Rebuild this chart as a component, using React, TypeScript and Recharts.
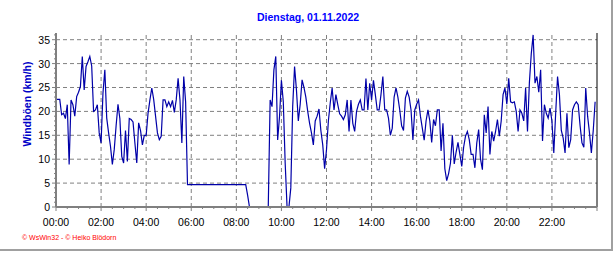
import { LineChart, Line, XAxis, YAxis, ReferenceLine } from "recharts";

const title = "Dienstag, 01.11.2022";
const yTitle = "Windböen (km/h)";
const credit = "© WsWin32 - © Heiko Blödorn";

const hourLabels = [
  "00:00", "02:00", "04:00", "06:00", "08:00", "10:00",
  "12:00", "14:00", "16:00", "18:00", "20:00", "22:00",
];
const gustLabels = [0, 5, 10, 15, 20, 25, 30, 35];

// Böen in 5-Minuten-Schritten (km/h)
const gusts00to06 = [
  22.5, 22.5, 22.5, 19.3, 19.6, 18.5, 21.4, 8.9, 22.4, 21.4, 19, 23.1,
  24, 25.2, 31.5, 24.5, 29.4, 30.4, 31.5, 29.5, 20, 20.3, 21.4, 15.5,
  13.4, 23.8, 28.7, 18.6, 15.5, 12.7, 8.9, 12, 17, 21.5, 18.5, 10.6,
  9.2, 16, 9.5, 18.5, 18.3, 17.8, 13.4, 9.2, 17.6, 16, 13, 15,
  15, 19.6, 22.4, 24.9, 22.5, 19, 15.5, 14.1, 14.8, 22.4, 22.4, 21,
  22, 21, 22.3, 19.8, 22.4, 26.9, 22.4, 13.4, 27.3, 22, 4.7, 4.7,
];
const gusts06to12 = [
  4.7, 4.7, 4.7, 4.7, 4.7, 4.7, 4.7, 4.7, 4.7, 4.7, 4.7, 4.7,
  4.7, 4.7, 4.7, 4.7, 4.7, 4.7, 4.7, 4.7, 4.7, 4.7, 4.7, 4.7,
  4.7, 4.7, 4.7, 4.7, 4.7, 4.7, 2.5, 0, 0, 0, 0, 0,
  0, 0, 0, 0, 0, 0, 22.4, 21, 28.7, 31.5, 14, 19,
  26.5, 22, 9.2, 0, 0, 4, 21, 29.4, 24.5, 18, 21.5, 26.6,
  25, 23, 20, 17.5, 15.5, 13, 18, 19, 20.5, 16, 13, 8,
];
const gusts12to18 = [
  12, 18, 21.8, 24.9, 20.3, 23.5, 21.4, 19.5, 19, 18.3, 19.3, 22.4,
  15.8, 22.4, 17.5, 15.8, 20, 21.5, 22.4, 20.3, 20.3, 26.9, 20.3, 25.9,
  22.4, 26.5, 23.5, 20.3, 20.3, 23.5, 27.3, 20.3, 20.3, 18.6, 15, 16.5,
  23, 24.9, 23, 20.3, 17, 16, 22.8, 24.2, 23, 20.3, 14, 20.3,
  21.5, 22.4, 19, 16.5, 14, 18, 20.3, 18, 13.5, 18.3, 17, 20.3,
  20.3, 11.7, 17.5, 8, 5.5, 7, 9.2, 15, 9, 11.5, 13.5, 11,
];
const gusts18to24 = [
  8.5, 12.5, 14.8, 15.8, 14.1, 11, 11, 8.2, 13.4, 16.2, 10, 7.8,
  19.3, 15.5, 21, 11, 15.8, 13.8, 15.8, 18.3, 14.8, 18, 23.5, 24.9,
  21.5, 26.9, 22, 21.8, 22, 20, 15.8, 20.3, 19.6, 18, 24.9, 15.8,
  26, 32, 36, 25.9, 27.3, 24, 28.7, 13.8, 21.4, 19.6, 18.6, 20.7,
  18, 11.3, 19.6, 27.3, 23.5, 16, 14.4, 11.3, 19.6, 12.4, 14.1, 20.3,
  21.4, 22, 21.4, 17, 13.4, 12.5, 24.9, 19, 15.5, 11.3, 16, 22,
];

const gusts = [...gusts00to06, ...gusts06to12, ...gusts12to18, ...gusts18to24];
const data = gusts.map((gust, i) => ({ minute: i * 5, gust }));

const xTicks = Array.from({ length: 49 }, (_, i) => i * 30);
const xGrid = hourLabels.map((_, i) => i * 120).filter((m) => m > 0);
const yTicks = Array.from({ length: 37 }, (_, i) => i);

const font = "'Liberation Sans', Arial, sans-serif";
const axisGray = "#808080";

function TimeTick({ x, y, payload }: any) {
  const minute = payload.value as number;
  const major = minute % 120 === 0;
  const label = major ? hourLabels[minute / 120] : undefined;
  return (
    <g>
      <line x1={x} x2={x} y1={y} y2={y + (major ? 4 : 2)} stroke={axisGray} />
      {label && (
        <text x={x} y={y + 19} textAnchor="middle" fontSize={10.5} fill="#000" fontFamily={font}>
          {label}
        </text>
      )}
    </g>
  );
}

function GustTick({ x, y, payload }: any) {
  const v = payload.value as number;
  const major = gustLabels.includes(v);
  return (
    <g>
      <line x1={x} x2={x - (major ? 4 : 2)} y1={y} y2={y} stroke={axisGray} />
      {major && (
        <text x={x - 6} y={y} dy={4} textAnchor="end" fontSize={10.5} fill="#000" fontFamily={font}>
          {v}
        </text>
      )}
    </g>
  );
}

export default function App() {
  return (
    <div style={{ position: "relative", width: 616, height: 253, background: "#fff", fontFamily: font }}>
      <style>{`body{margin:0}`}</style>
      <div
        style={{
          position: "absolute",
          left: 0,
          top: 0,
          width: 611,
          height: 249,
          borderRight: "2px solid #a0a0a0",
          borderBottom: "2px solid #a0a0a0",
        }}
      />
      <div
        style={{
          position: "absolute",
          left: 0,
          width: 616,
          top: 11,
          textAlign: "center",
          color: "#0000ff",
          fontWeight: "bold",
          fontSize: 10.5,
        }}
      >
        {title}
      </div>
      <div
        style={{
          position: "absolute",
          left: 27,
          top: 104,
          transform: "translate(-50%, -50%) rotate(-90deg)",
          whiteSpace: "nowrap",
          color: "#0000c8",
          fontWeight: "bold",
          fontSize: 10.5,
        }}
      >
        {yTitle}
      </div>
      <div
        style={{
          position: "absolute",
          left: 22,
          top: 234,
          color: "#ff0000",
          fontSize: 7,
          whiteSpace: "nowrap",
        }}
      >
        {credit}
      </div>
      <div style={{ position: "absolute", left: 0, top: 0 }}>
        <LineChart width={616} height={253} data={data} margin={{ top: 33, right: 19, bottom: 26, left: 0 }}>
          {gustLabels
            .filter((v) => v > 0)
            .map((v) => (
              <ReferenceLine key={`gy${v}`} y={v} stroke={axisGray} strokeDasharray="4 3" />
            ))}
          {xGrid.map((m) => (
            <ReferenceLine key={`gx${m}`} x={m} stroke={axisGray} strokeDasharray="4 3" />
          ))}
          <ReferenceLine x={1440} stroke="#000" />
          <XAxis
            dataKey="minute"
            type="number"
            domain={[0, 1440]}
            ticks={xTicks}
            interval={0}
            height={20}
            tickSize={0}
            tickMargin={0}
            axisLine={{ stroke: axisGray, strokeWidth: 2 }}
            tickLine={false}
            tick={<TimeTick />}
            allowDataOverflow
          />
          <XAxis
            xAxisId="top"
            orientation="top"
            type="number"
            domain={[0, 1440]}
            ticks={xGrid}
            interval={0}
            height={0}
            mirror
            tickSize={3}
            axisLine={{ stroke: "#000" }}
            tickLine={{ stroke: "#000" }}
            tickFormatter={() => ""}
            allowDataOverflow
          />
          <YAxis
            type="number"
            domain={[0, 36.4]}
            ticks={yTicks}
            interval={0}
            width={56}
            tickSize={0}
            tickMargin={0}
            axisLine={{ stroke: axisGray, strokeWidth: 2 }}
            tickLine={false}
            tick={<GustTick />}
            allowDataOverflow
          />
          <Line
            type="linear"
            dataKey="gust"
            stroke="#0000a8"
            strokeWidth={1.2}
            dot={false}
            isAnimationActive={false}
          />
        </LineChart>
      </div>
    </div>
  );
}
